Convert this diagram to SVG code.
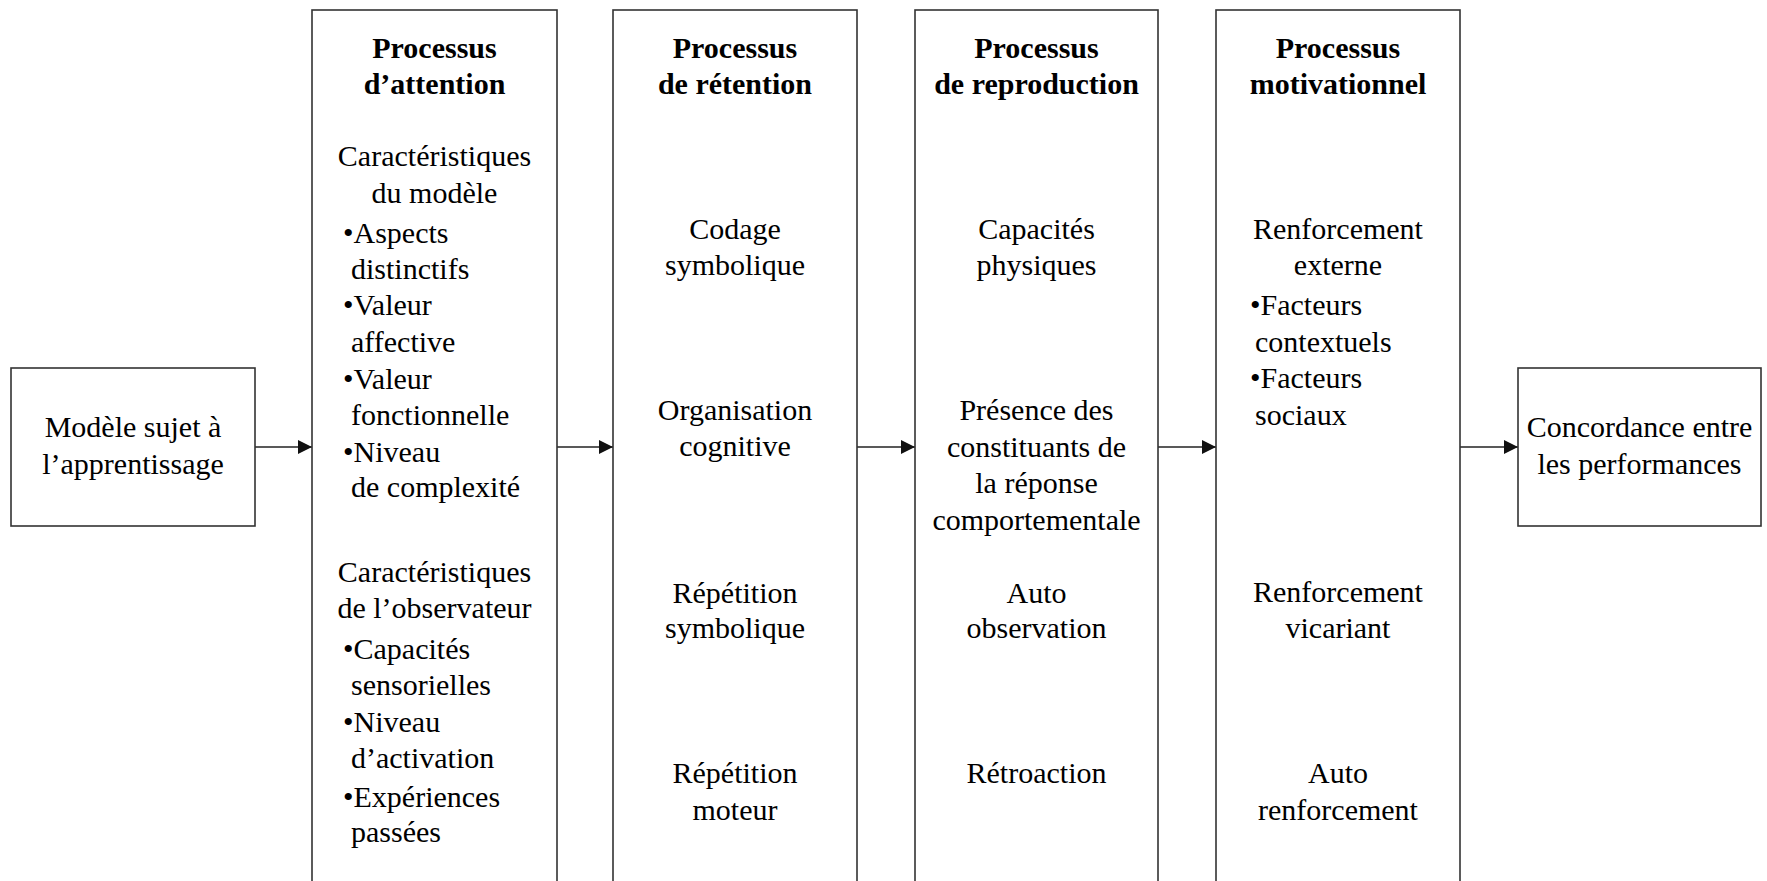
<svg xmlns="http://www.w3.org/2000/svg" width="1767" height="881" viewBox="0 0 1767 881">
<defs>
<style>
.box{fill:#fff;stroke:#333;stroke-width:1.6}
text{font-family:"Liberation Serif","Times New Roman",serif;font-size:30px;fill:#000}
.t{font-weight:bold}
.c{text-anchor:middle}
.l{text-anchor:start}
.conn{stroke:#222;stroke-width:1.6;fill:none;marker-end:url(#ah)}
</style>
<marker id="ah" viewBox="0 0 14 14" refX="14" refY="7" markerWidth="14" markerHeight="14" markerUnits="userSpaceOnUse" orient="auto">
<path d="M0,0 L14,7 L0,14 Z" fill="#111"/>
</marker>
</defs>
<rect width="1767" height="881" fill="#fff"/>

<g id="connectors">
<line class="conn" x1="255" y1="447" x2="312" y2="447"/>
<line class="conn" x1="557" y1="447" x2="613" y2="447"/>
<line class="conn" x1="857" y1="447" x2="915" y2="447"/>
<line class="conn" x1="1158" y1="447" x2="1216" y2="447"/>
<line class="conn" x1="1460" y1="447" x2="1518" y2="447"/>
</g>

<g id="modele">
<rect class="box" x="11" y="368" width="244" height="158"/>
<text class="c" x="133" y="437">Modèle sujet à</text>
<text class="c" x="133" y="474">l’apprentissage</text>
</g>

<g id="attention">
<rect class="box" x="312" y="10" width="245" height="890"/>
<text class="t c" x="434.5" y="58">Processus</text>
<text class="t c" x="434.5" y="94">d’attention</text>
<text class="c" x="434.5" y="166">Caractéristiques</text>
<text class="c" x="434.5" y="203">du modèle</text>
<text class="l" x="343" y="243">•Aspects</text>
<text class="l" x="351" y="279">distinctifs</text>
<text class="l" x="343" y="315">•Valeur</text>
<text class="l" x="351" y="352">affective</text>
<text class="l" x="343" y="389">•Valeur</text>
<text class="l" x="351" y="425">fonctionnelle</text>
<text class="l" x="343" y="462">•Niveau</text>
<text class="l" x="351" y="497">de complexité</text>
<text class="c" x="434.5" y="582">Caractéristiques</text>
<text class="c" x="434.5" y="618">de l’observateur</text>
<text class="l" x="343" y="659">•Capacités</text>
<text class="l" x="351" y="695">sensorielles</text>
<text class="l" x="343" y="732">•Niveau</text>
<text class="l" x="351" y="768">d’activation</text>
<text class="l" x="343" y="807">•Expériences</text>
<text class="l" x="351" y="842">passées</text>
</g>

<g id="retention">
<rect class="box" x="613" y="10" width="244" height="890"/>
<text class="t c" x="735" y="58">Processus</text>
<text class="t c" x="735" y="94">de rétention</text>
<text class="c" x="735" y="239">Codage</text>
<text class="c" x="735" y="275">symbolique</text>
<text class="c" x="735" y="420">Organisation</text>
<text class="c" x="735" y="456">cognitive</text>
<text class="c" x="735" y="603">Répétition</text>
<text class="c" x="735" y="638">symbolique</text>
<text class="c" x="735" y="783">Répétition</text>
<text class="c" x="735" y="820">moteur</text>
</g>

<g id="reproduction">
<rect class="box" x="915" y="10" width="243" height="890"/>
<text class="t c" x="1036.5" y="58">Processus</text>
<text class="t c" x="1036.5" y="94">de reproduction</text>
<text class="c" x="1036.5" y="239">Capacités</text>
<text class="c" x="1036.5" y="275">physiques</text>
<text class="c" x="1036.5" y="420">Présence des</text>
<text class="c" x="1036.5" y="457">constituants de</text>
<text class="c" x="1036.5" y="493">la réponse</text>
<text class="c" x="1036.5" y="530">comportementale</text>
<text class="c" x="1036.5" y="603">Auto</text>
<text class="c" x="1036.5" y="638">observation</text>
<text class="c" x="1036.5" y="783">Rétroaction</text>
</g>

<g id="motivationnel">
<rect class="box" x="1216" y="10" width="244" height="890"/>
<text class="t c" x="1338" y="58">Processus</text>
<text class="t c" x="1338" y="94">motivationnel</text>
<text class="c" x="1338" y="239">Renforcement</text>
<text class="c" x="1338" y="275">externe</text>
<text class="l" x="1250" y="315">•Facteurs</text>
<text class="l" x="1255" y="352">contextuels</text>
<text class="l" x="1250" y="388">•Facteurs</text>
<text class="l" x="1255" y="425">sociaux</text>
<text class="c" x="1338" y="602">Renforcement</text>
<text class="c" x="1338" y="638">vicariant</text>
<text class="c" x="1338" y="783">Auto</text>
<text class="c" x="1338" y="820">renforcement</text>
</g>

<g id="concordance">
<rect class="box" x="1518" y="368" width="243" height="158"/>
<text class="c" x="1639.5" y="437">Concordance entre</text>
<text class="c" x="1639.5" y="474">les performances</text>
</g>
</svg>
